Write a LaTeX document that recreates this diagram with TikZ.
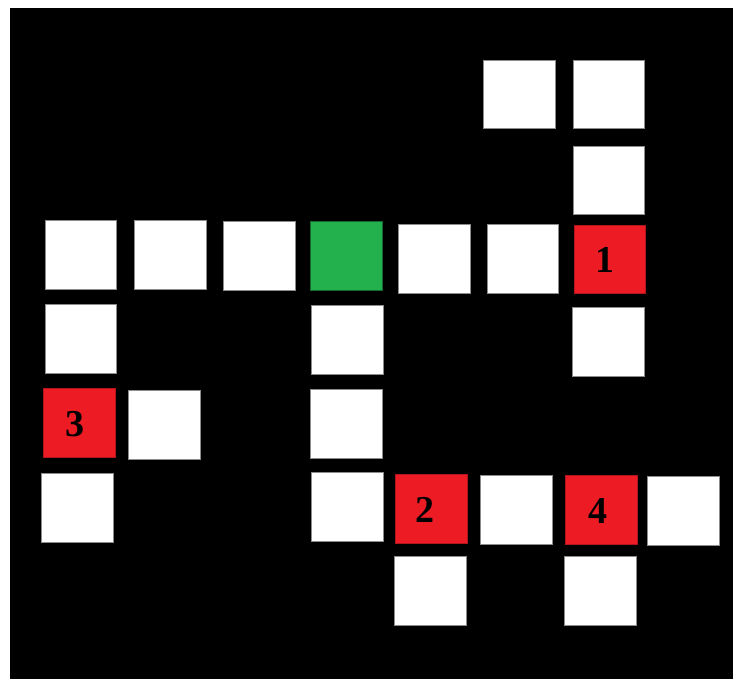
\documentclass[tikz,border=0pt]{standalone}
\usepackage{fontspec}
\setmainfont{Liberation Serif}
\definecolor{cellred}{HTML}{ED1C24}
\definecolor{cellgreen}{HTML}{22B14C}
\newcommand\cell[6]{\node[cellbox,#6,minimum width={#4pt-#2pt},minimum height={#5pt-#3pt},anchor=north west] (#1) at (#2,#3) {};}
\begin{document}
\begin{tikzpicture}[x=1pt,y=-1pt,
  cellbox/.style={inner sep=0pt,outer sep=0pt,line width=0.8pt},
  wcell/.style={fill=white,draw=black!45},
  rcell/.style={fill=cellred,draw=cellred!75!black},
  gcell/.style={fill=cellgreen,draw=cellgreen!60!black},
  numtxt/.style={font=\bfseries\fontsize{38}{40}\selectfont,text=black,inner sep=0pt}]
\useasboundingbox (0,0) rectangle (733,679);
\fill[white] (0,0) rectangle (733,679);
\fill[black] (10,8) rectangle (733,679);
\cell{A}{483.3}{60}{555}{128.7}{wcell}
\cell{B}{573.3}{60}{644.7}{128.7}{wcell}
\cell{C}{573.3}{146}{644.7}{214.3}{wcell}
\cell{D1}{45}{220.7}{116.7}{289.3}{wcell}
\cell{D2}{134.7}{220.7}{206.3}{289.3}{wcell}
\cell{D3}{223.3}{221.7}{295.3}{290}{wcell}
\cell{G}{310.7}{221.7}{382}{290.3}{gcell}
\cell{D5}{398.3}{224.3}{470}{293}{wcell}
\cell{D6}{487}{224.3}{558.7}{293}{wcell}
\cell{R1}{574}{225}{645.7}{293.7}{rcell}
\cell{E1}{45}{304.3}{116.7}{373.3}{wcell}
\cell{E2}{311.3}{305.3}{383.3}{374.3}{wcell}
\cell{E3}{572}{307.3}{644}{376}{wcell}
\cell{R3}{43}{388.7}{115}{457}{rcell}
\cell{F2}{128.3}{390}{200}{459.3}{wcell}
\cell{F3}{310.3}{389.3}{382.3}{458.3}{wcell}
\cell{H1}{41.3}{473.3}{113}{542.3}{wcell}
\cell{H2}{311.3}{472.7}{383.3}{541.3}{wcell}
\cell{R2}{395.3}{474.3}{467.3}{543}{rcell}
\cell{H4}{480.3}{475.3}{552.3}{544.3}{wcell}
\cell{R4}{565.3}{475.3}{637.3}{544.3}{rcell}
\cell{H6}{647.7}{476}{719.7}{545.3}{wcell}
\cell{I1}{394.3}{556.3}{466.7}{625.3}{wcell}
\cell{I2}{564.3}{556.3}{636.3}{625.3}{wcell}
\node[numtxt] (n1) at ([xshift=-5pt,yshift=-1pt]R1.center) {1};
\node[numtxt] (n2) at ([xshift=-6pt,yshift=-1.5pt]R2.center) {2};
\node[numtxt] (n3) at ([xshift=-4.5pt,yshift=-1.5pt]R3.center) {3};
\node[numtxt] (n4) at ([xshift=-3pt,yshift=-1.5pt]R4.center) {4};
\end{tikzpicture}
\end{document}
